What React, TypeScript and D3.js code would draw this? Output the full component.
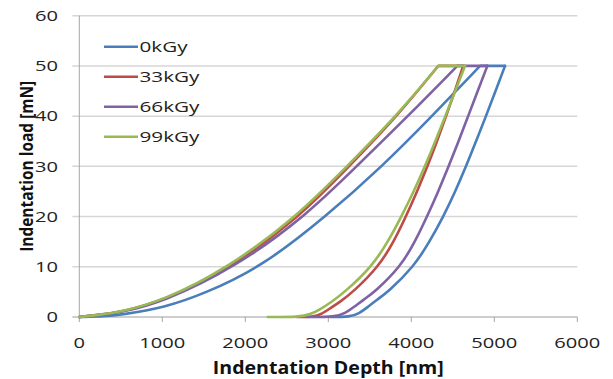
import { useEffect, useRef } from 'react';
import * as d3 from 'd3';

const SERIES_NAMES = ['0kGy', '33kGy', '66kGy', '99kGy'];
const SERIES_COLORS = ['#4a7ebb', '#be4b48', '#7f62a3', '#98b954'];

// loading branches: [depth nm, load mN]
const load0kGy = [[0, 0], [300, 0.12], [500, 0.42], [1030, 1.9], [1500, 4.6], [2200, 10], [2970, 20], [3650, 30], [4250, 40], [4828, 50]];
const load33kGy = [[0, 0], [250, 0.45], [500, 1.0], [1000, 3.1], [1810, 9.6], [2660, 20], [3250, 30], [3830, 40], [4325, 50]];
const load66kGy = [[0, 0], [250, 0.4], [500, 0.95], [1000, 2.9], [1877, 9.9], [2720, 20], [3340, 30], [3960, 40], [4554, 50]];
const load99kGy = [[0, 0], [250, 0.45], [500, 1.05], [1000, 3.2], [1780, 9.6], [2620, 20], [3225, 30], [3820, 40], [4325, 50]];

// unloading branches (ascending depth), ending at the end of the hold
const unload0kGy = [[3020, 0], [3261, 0], [3370, 0.7], [3470, 1.9], [3590, 3.5], [3720, 5], [4030, 10], [4220, 15], [4386, 20], [4530, 25], [4660, 30], [4780, 35], [4900, 40], [5015, 45], [5129, 50]];
const unload33kGy = [[2620, 0], [2817, 0], [2920, 0.6], [3020, 1.7], [3140, 3], [3300, 5], [3605, 10], [3790, 15], [3935, 20], [4070, 25], [4195, 30], [4310, 35], [4420, 40], [4525, 45], [4625, 50]];
const unload66kGy = [[2750, 0], [3090, 0], [3200, 0.7], [3310, 2], [3430, 3.5], [3560, 5], [3870, 10], [4045, 15], [4190, 20], [4325, 25], [4450, 30], [4570, 35], [4685, 40], [4800, 45], [4916, 50]];
const unload99kGy = [[2272, 0], [2660, 0], [2780, 0.5], [2900, 1.5], [3040, 3], [3200, 5], [3523, 10], [3720, 15], [3880, 20], [4030, 25], [4165, 30], [4290, 35], [4410, 40], [4530, 45], [4647, 50]];

const LOADING = [load0kGy, load33kGy, load66kGy, load99kGy];
const UNLOADING = [unload0kGy, unload33kGy, unload66kGy, unload99kGy];

const X_TICKS = [0, 1000, 2000, 3000, 4000, 5000, 6000];
const Y_TICKS = [0, 10, 20, 30, 40, 50, 60];

const FONT = '"Open Sans", "DejaVu Sans", sans-serif';

export default function App() {
  const svgRef = useRef<SVGSVGElement>(null);

  useEffect(() => {
    if (!svgRef.current) return;
    const svg = d3.select(svgRef.current);
    svg.selectAll('*').remove();

    const left = 79.3, right = 577.3, top = 15.7, bottom = 317;
    const x = d3.scaleLinear().domain([0, 6000]).range([left, right]);
    const y = d3.scaleLinear().domain([0, 60]).range([bottom, top]);

    // gridlines + y ticks
    svg.append('g').selectAll('line').data(Y_TICKS).join('line')
      .attr('x1', left - 7).attr('x2', right)
      .attr('y1', d => y(d)).attr('y2', d => y(d))
      .attr('stroke', d => d === 0 ? '#bdbdbd' : '#d6d6d6').attr('stroke-width', 1.5);

    svg.append('line')
      .attr('x1', left).attr('x2', left).attr('y1', top).attr('y2', bottom)
      .attr('stroke', '#a6a6a6').attr('stroke-width', 1);

    svg.append('g').selectAll('line').data(X_TICKS).join('line')
      .attr('x1', d => x(d)).attr('x2', d => x(d))
      .attr('y1', bottom).attr('y2', bottom + 5)
      .attr('stroke', '#a6a6a6').attr('stroke-width', 1);

    svg.append('g').selectAll('text').data(Y_TICKS).join('text')
      .attr('x', 58).attr('y', d => y(d) + 5.3)
      .attr('text-anchor', 'end').attr('font-family', FONT).attr('font-size', 14.5).attr('fill', '#222')
      .attr('textLength', d => String(d).length * 11.5).attr('lengthAdjust', 'spacingAndGlyphs')
      .text(d => d);

    svg.append('g').selectAll('text').data(X_TICKS).join('text')
      .attr('x', d => x(d)).attr('y', 347.5)
      .attr('text-anchor', 'middle').attr('font-family', FONT).attr('font-size', 14.5).attr('fill', '#222')
      .attr('textLength', d => String(d).length * 11.5).attr('lengthAdjust', 'spacingAndGlyphs')
      .text(d => d);

    svg.append('text')
      .attr('x', (left + right) / 2).attr('y', 374)
      .attr('text-anchor', 'middle').attr('font-family', FONT).attr('font-size', 17).attr('font-weight', 700).attr('fill', '#111')
      .attr('textLength', 231).attr('lengthAdjust', 'spacingAndGlyphs')
      .text('Indentation Depth [nm]');

    svg.append('text')
      .attr('transform', `translate(33,${(top + bottom) / 2}) scale(1.3,1) rotate(-90)`)
      .attr('text-anchor', 'middle').attr('font-family', FONT).attr('font-size', 14).attr('font-weight', 700).attr('fill', '#111')
      .attr('textLength', 171).attr('lengthAdjust', 'spacingAndGlyphs')
      .text('Indentation load [mN]');

    // curves
    const line = d3.line<number[]>().x(d => x(d[0])).y(d => y(d[1])).curve(d3.curveBasis);
    const plot = svg.append('g');
    SERIES_NAMES.forEach((_, i) => {
      const ld = LOADING[i];
      const ul = UNLOADING[i];
      const holdEnd = ul[ul.length - 1];
      const g = plot.append('g')
        .attr('fill', 'none').attr('stroke', SERIES_COLORS[i]).attr('stroke-width', 2.6)
        .attr('stroke-linejoin', 'round').attr('stroke-linecap', 'round');
      g.append('path').attr('d', `${line(ld)}L${x(holdEnd[0])},${y(holdEnd[1])}`);
      g.append('path').attr('d', line(ul));
    });

    // legend
    const legend = svg.append('g').selectAll('g').data(SERIES_NAMES).join('g')
      .attr('transform', (_, i) => `translate(0,${46.7 + i * 30})`);
    legend.append('line')
      .attr('x1', 104).attr('x2', 138).attr('y1', 0).attr('y2', 0)
      .attr('stroke', (_, i) => SERIES_COLORS[i]).attr('stroke-width', 2.6);
    legend.append('text')
      .attr('x', 139.5).attr('y', 5.2)
      .attr('font-family', FONT).attr('font-size', 14.5).attr('fill', '#222')
      .attr('textLength', d => d === '0kGy' ? 48 : 60).attr('lengthAdjust', 'spacingAndGlyphs')
      .text(d => d);
  }, []);

  return (
    <svg ref={svgRef} width={613} height={379}
      style={{ position: 'absolute', left: 0, top: 0, background: '#fff' }} />
  );
}
